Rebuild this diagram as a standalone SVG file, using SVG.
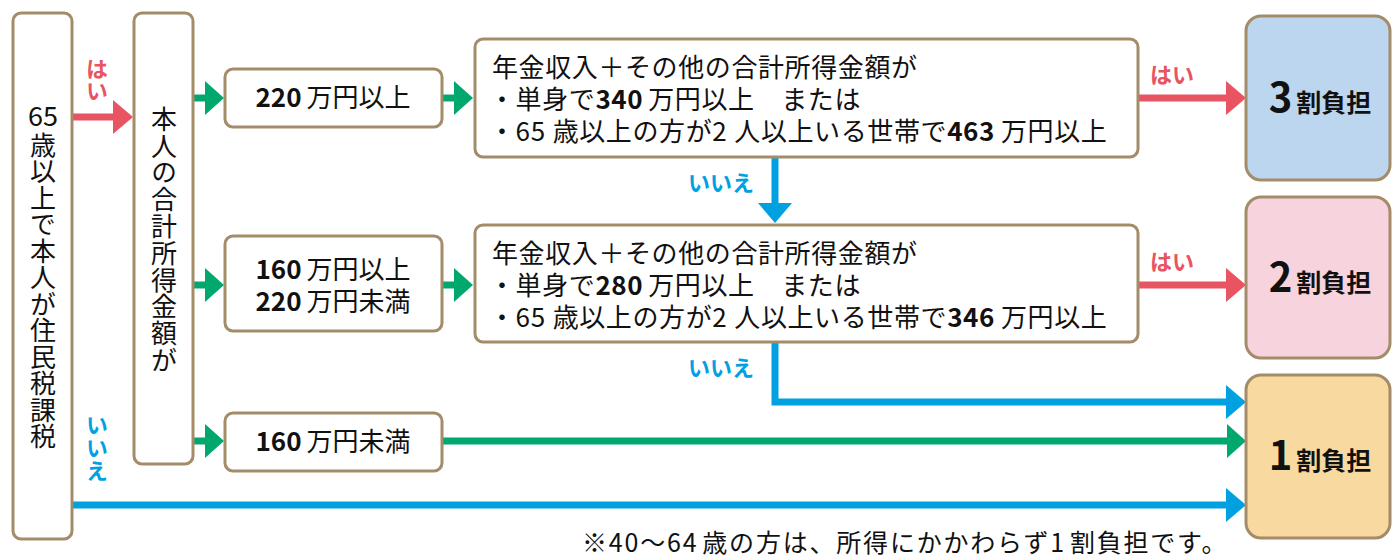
<svg xmlns="http://www.w3.org/2000/svg" width="1392" height="558" viewBox="0 0 1392 558">
<style>
.box{fill:#fff;stroke:#a48b6a;stroke-width:3}
.t{font-family:"Noto Sans CJK JP","Noto Sans",sans-serif;fill:#111}
.b{font-weight:bold}
.v{writing-mode:vertical-rl;text-orientation:upright}
.red{stroke:#e85462;stroke-width:7;fill:none}
.grn{stroke:#00a86e;stroke-width:7;fill:none}
.blu{stroke:#00a0e1;stroke-width:7;fill:none}
.lr{fill:#e85462;font-weight:bold}
.lb{fill:#00a0e1;font-weight:bold}
.w{letter-spacing:0.6px}
</style>
<defs>
<marker id="hr" markerUnits="userSpaceOnUse" markerWidth="21" markerHeight="36" refX="0" refY="17" orient="auto"><path d="M0,0 L20,17 L0,34 z" fill="#e85462"/></marker>
<marker id="hg" markerUnits="userSpaceOnUse" markerWidth="21" markerHeight="36" refX="0" refY="17" orient="auto"><path d="M0,0 L19,17 L0,34 z" fill="#00a86e"/></marker>
<marker id="hb" markerUnits="userSpaceOnUse" markerWidth="21" markerHeight="36" refX="0" refY="17" orient="auto"><path d="M0,0 L20,17 L0,34 z" fill="#00a0e1"/></marker>
</defs>

<g id="connectors">
<path class="red" d="M72,117 H113" marker-end="url(#hr)"/>
<path class="grn" d="M193,98 H205" marker-end="url(#hg)"/>
<path class="grn" d="M193,285 H205" marker-end="url(#hg)"/>
<path class="grn" d="M193,441 H205" marker-end="url(#hg)"/>
<path class="grn" d="M442,98 H454" marker-end="url(#hg)"/>
<path class="grn" d="M442,285 H454" marker-end="url(#hg)"/>
<path class="red" d="M1138,98 H1226" marker-end="url(#hr)"/>
<path class="red" d="M1138,285 H1226" marker-end="url(#hr)"/>
<path class="blu" d="M775,157 V203" marker-end="url(#hb)"/>
<path class="blu" d="M775,342 V402 H1226" marker-end="url(#hb)"/>
<path class="grn" d="M442,441 H1227" marker-end="url(#hg)"/>
<path class="blu" d="M72,505 H1226" marker-end="url(#hb)"/>
<text class="t lr v" x="97" y="58" font-size="22">はい</text>
<text class="t lb v" x="97" y="414" font-size="22" letter-spacing="1">いいえ</text>
<text class="t lr" x="1172" y="83" font-size="22" text-anchor="middle">はい</text>
<text class="t lr" x="1172" y="270" font-size="22" text-anchor="middle">はい</text>
<text class="t lb" x="721" y="191" font-size="22" text-anchor="middle">いいえ</text>
<text class="t lb" x="721" y="376" font-size="22" text-anchor="middle">いいえ</text>
</g>

<g id="n-age">
<rect class="box" x="13" y="13" width="59" height="526" rx="8"/>
<text class="t" x="43" y="126" font-size="27" text-anchor="middle">65</text>
<text class="t v" x="43" y="132" font-size="26" letter-spacing="0.5">歳以上で本人が住民税課税</text>
</g>

<g id="n-income">
<rect class="box" x="134" y="13" width="59" height="451" rx="8"/>
<text class="t v" x="164" y="106" font-size="26" letter-spacing="0.8">本人の合計所得金額が</text>
</g>

<g id="n-220">
<rect class="box" x="225" y="69" width="217" height="58" rx="8"/>
<text class="t" x="333" y="107" font-size="26" text-anchor="middle"><tspan class="b">220</tspan><tspan dx="5">万円以上</tspan></text>
</g>

<g id="n-160-220">
<rect class="box" x="225" y="236" width="217" height="95" rx="8"/>
<text class="t" x="333" y="279" font-size="26" text-anchor="middle"><tspan class="b">160</tspan><tspan dx="5">万円以上</tspan></text>
<text class="t" x="333" y="311" font-size="26" text-anchor="middle"><tspan class="b">220</tspan><tspan dx="5">万円未満</tspan></text>
</g>

<g id="n-160">
<rect class="box" x="225" y="413" width="217" height="58" rx="8"/>
<text class="t" x="333" y="451" font-size="26" text-anchor="middle"><tspan class="b">160</tspan><tspan dx="5">万円未満</tspan></text>
</g>

<g id="n-cond3">
<rect class="box" x="475" y="39" width="663" height="118" rx="8"/>
<text class="t w" x="492" y="77" font-size="26">年金収入＋その他の合計所得金額が</text>
<text class="t w" x="489" y="109" font-size="26">・単身で<tspan class="b">340</tspan><tspan dx="5">万円以上　または</tspan></text>
<text class="t w" x="489" y="141" font-size="26">・65<tspan dx="7">歳以上の方が2</tspan><tspan dx="7">人以上いる世帯で</tspan><tspan class="b">463</tspan><tspan dx="6">万円以上</tspan></text>
</g>

<g id="n-cond2">
<rect class="box" x="475" y="225" width="663" height="117" rx="8"/>
<text class="t w" x="492" y="263" font-size="26">年金収入＋その他の合計所得金額が</text>
<text class="t w" x="489" y="295" font-size="26">・単身で<tspan class="b">280</tspan><tspan dx="5">万円以上　または</tspan></text>
<text class="t w" x="489" y="327" font-size="26">・65<tspan dx="7">歳以上の方が2</tspan><tspan dx="7">人以上いる世帯で</tspan><tspan class="b">346</tspan><tspan dx="6">万円以上</tspan></text>
</g>

<g id="n-r3">
<rect x="1246" y="16" width="144" height="164" rx="15" fill="#bbd6ee" stroke="#a48b6a" stroke-width="3"/>
<text class="t b" x="1320" y="112" text-anchor="middle"><tspan font-size="40">3</tspan><tspan font-size="25" dx="4">割負担</tspan></text>
</g>

<g id="n-r2">
<rect x="1246" y="197" width="144" height="161" rx="15" fill="#f7d3dd" stroke="#a48b6a" stroke-width="3"/>
<text class="t b" x="1320" y="292" text-anchor="middle"><tspan font-size="40">2</tspan><tspan font-size="25" dx="4">割負担</tspan></text>
</g>

<g id="n-r1">
<rect x="1246" y="375" width="144" height="163" rx="15" fill="#f8d9a0" stroke="#a48b6a" stroke-width="3"/>
<text class="t b" x="1320" y="470" text-anchor="middle"><tspan font-size="40">1</tspan><tspan font-size="25" dx="4">割負担</tspan></text>
</g>

<text class="t" x="582" y="552" font-size="25" letter-spacing="1.8">※40〜64<tspan dx="4">歳の方は、所得にかかわらず1</tspan><tspan dx="4">割負担です。</tspan></text>
</svg>
